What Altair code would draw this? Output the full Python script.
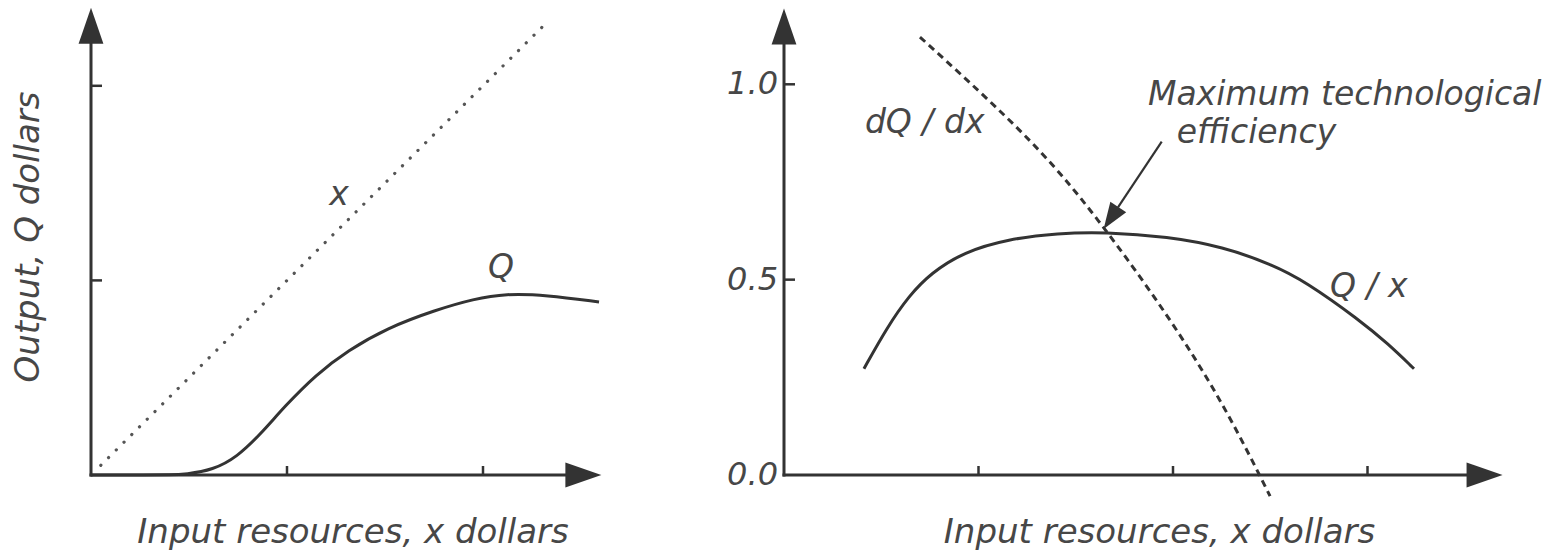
import altair as alt
import pandas as pd

# ---------------- data ----------------
# Left panel: total output Q against input x, plus the reference line Q = x
Q_X = [0.0, 0.30, 0.40, 0.485, 0.622, 0.745, 0.867, 0.990, 1.148, 1.311, 1.510, 1.755, 1.954, 2.117, 2.321, 2.592]
Q_Y = [0.0, 0.0, 0.0, 0.004, 0.026, 0.092, 0.212, 0.355, 0.516, 0.640, 0.755, 0.847, 0.905, 0.932, 0.925, 0.889]
REF_X = [0.05, 2.33]
REF_Y = [0.05, 2.33]

# Right panel: average product Q/x and marginal product dQ/dx
QX_X = [0.411, 0.530, 0.643, 0.756, 0.925, 1.152, 1.409, 1.648, 1.974, 2.257, 2.509, 2.679, 2.961, 3.105, 3.239]
QX_Y = [0.272, 0.378, 0.459, 0.517, 0.571, 0.604, 0.619, 0.622, 0.610, 0.584, 0.539, 0.496, 0.396, 0.336, 0.272]
DQ_X = [0.699, 1.265, 1.648, 1.974, 2.257, 2.499]
DQ_Y = [1.121, 0.855, 0.630, 0.404, 0.177, -0.054]

# Axis ticks and tick labels
LEFT_XTICKS = [1, 2]
LEFT_YTICKS = [1, 2]
RIGHT_XTICKS = [1, 2, 3]
RIGHT_YTICKS = [0.5, 1.0]
RIGHT_YLABELS = ["0.0", "0.5", "1.0"]
RIGHT_YLABEL_VALUES = [0.0, 0.5, 1.0]

# Text
X_TITLE = "Input resources, x dollars"
Y_TITLE_LEFT = "Output, Q dollars"

# ---------------- layout ----------------
LEFT_W, RIGHT_W, H = 700, 863, 553
# pixels per data unit in each panel
L_PX_X, L_PX_Y = 196.0, 194.6
R_PX_X, R_PX_Y = 194.5, 390.7
L_XDOM = [-91 / L_PX_X, (LEFT_W - 91) / L_PX_X]
L_YDOM = [(475 - H) / L_PX_Y, 475 / L_PX_Y]
R_XDOM = [-84 / R_PX_X, (RIGHT_W - 84) / R_PX_X]
R_YDOM = [(475 - H) / R_PX_Y, 475 / R_PX_Y]

LINE = "#333333"
TEXT = "#474747"
FONT = "DejaVu Sans"
ARROW = "M0,-1L0.69,1L-0.69,1Z"


def enc(xdom, ydom, x2=False, y2=False):
    e = dict(
        x=alt.X("x:Q", scale=alt.Scale(domain=xdom, nice=False, zero=False), axis=None),
        y=alt.Y("y:Q", scale=alt.Scale(domain=ydom, nice=False, zero=False), axis=None),
    )
    if x2:
        e["x2"] = alt.X2("x2:Q")
    if y2:
        e["y2"] = alt.Y2("y2:Q")
    return e


def axes(xdom, ydom, x_end, y_end, xticks, yticks, tick_x, tick_y, arrow_x, arrow_y):
    lines = pd.DataFrame({"x": [0, 0], "y": [0, 0], "x2": [x_end, 0], "y2": [0, y_end]})
    ax = alt.Chart(lines).mark_rule(color=LINE, strokeWidth=3, strokeCap="square").encode(
        **enc(xdom, ydom, True, True))
    tk = pd.DataFrame({
        "x": list(xticks) + [0] * len(yticks),
        "y": [0] * len(xticks) + list(yticks),
        "x2": list(xticks) + [tick_x] * len(yticks),
        "y2": [tick_y] * len(xticks) + list(yticks),
    })
    ticks = alt.Chart(tk).mark_rule(color=LINE, strokeWidth=2.5).encode(**enc(xdom, ydom, True, True))
    up = alt.Chart(pd.DataFrame({"x": [0], "y": [arrow_y]})).mark_point(
        shape=ARROW, size=1296, filled=True, color=LINE, opacity=1, strokeWidth=0
    ).encode(**enc(xdom, ydom))
    right = alt.Chart(pd.DataFrame({"x": [arrow_x], "y": [0]})).mark_point(
        shape=ARROW, size=1296, angle=90, filled=True, color=LINE, opacity=1, strokeWidth=0
    ).encode(**enc(xdom, ydom))
    return [ax, ticks, up, right]


def text_layer(df, xdom, ydom, size, **kw):
    return alt.Chart(df).mark_text(
        font=FONT, fontStyle="italic", fontSize=size, color=TEXT, **kw
    ).encode(**enc(xdom, ydom), text="text:N")


# ---------------- left panel ----------------
ref_df = pd.DataFrame({"x": REF_X, "y": REF_Y})
q_df = pd.DataFrame({"x": Q_X, "y": Q_Y})

left_layers = axes(L_XDOM, L_YDOM, 2.418, 2.218, LEFT_XTICKS, LEFT_YTICKS,
                   11 / L_PX_X, 9 / L_PX_Y, 2.512, 2.308)
left_layers += [
    alt.Chart(ref_df).mark_line(color="#555555", strokeWidth=3.2, strokeDash=[0.1, 10.8],
                                strokeCap="round").encode(**enc(L_XDOM, L_YDOM)),
    alt.Chart(q_df).mark_line(color=LINE, strokeWidth=3, interpolate="basis").encode(
        **enc(L_XDOM, L_YDOM)),
    text_layer(pd.DataFrame({"x": [1.265, 2.092], "y": [1.387, 1.012], "text": ["x", "Q"]}),
               L_XDOM, L_YDOM, 33, align="center", baseline="alphabetic"),
    text_layer(pd.DataFrame({"x": [1.337], "y": [-0.349], "text": [X_TITLE]}),
               L_XDOM, L_YDOM, 34, align="center", baseline="alphabetic"),
    text_layer(pd.DataFrame({"x": [-0.314], "y": [1.223], "text": [Y_TITLE_LEFT]}),
               L_XDOM, L_YDOM, 34, align="center", baseline="middle", angle=270),
]
left = alt.layer(*left_layers).properties(width=LEFT_W, height=H)

# ---------------- right panel ----------------
qx_df = pd.DataFrame({"x": QX_X, "y": QX_Y})
dq_df = pd.DataFrame({"x": DQ_X, "y": DQ_Y})

right_layers = axes(R_XDOM, R_YDOM, 3.506, 1.102, RIGHT_XTICKS, RIGHT_YTICKS,
                    11 / R_PX_X, 9 / R_PX_Y, 3.602, 1.148)
right_layers += [
    alt.Chart(dq_df).mark_line(color=LINE, strokeWidth=3, strokeDash=[7, 5],
                               interpolate="natural").encode(**enc(R_XDOM, R_YDOM)),
    alt.Chart(qx_df).mark_line(color=LINE, strokeWidth=3, interpolate="basis").encode(
        **enc(R_XDOM, R_YDOM)),
    # pointer to the point of maximum technological efficiency
    alt.Chart(pd.DataFrame({"x": [1.942], "y": [0.853], "x2": [1.717], "y2": [0.685]})).mark_rule(
        color=LINE, strokeWidth=2.2).encode(**enc(R_XDOM, R_YDOM, True, True)),
    alt.Chart(pd.DataFrame({"x": [1.681], "y": [0.658]})).mark_point(
        shape="M0,-1L0.72,1L-0.72,1Z", size=700, angle=213.6, filled=True, color=LINE,
        opacity=1, strokeWidth=0).encode(**enc(R_XDOM, R_YDOM)),
    text_layer(pd.DataFrame({"x": [0] * 3, "y": RIGHT_YLABEL_VALUES, "text": RIGHT_YLABELS}),
               R_XDOM, R_YDOM, 32, align="right", baseline="middle", dx=-6),
    text_layer(pd.DataFrame({
        "x": [0.416, 1.871, 2.019, 2.807],
        "y": [0.875, 0.947, 0.850, 0.456],
        "text": ["dQ / dx", "Maximum technological", "efficiency", "Q / x"],
    }), R_XDOM, R_YDOM, 33, align="left", baseline="alphabetic"),
    text_layer(pd.DataFrame({"x": [1.931], "y": [-0.174], "text": [X_TITLE]}),
               R_XDOM, R_YDOM, 34, align="center", baseline="alphabetic"),
]
right = alt.layer(*right_layers).properties(width=RIGHT_W, height=H)

chart = alt.hconcat(left, right, spacing=0).properties(
    padding=0, background="white"
).configure_view(stroke=None)

chart.save("out.html", embed_options={"renderer": "svg", "actions": False})
